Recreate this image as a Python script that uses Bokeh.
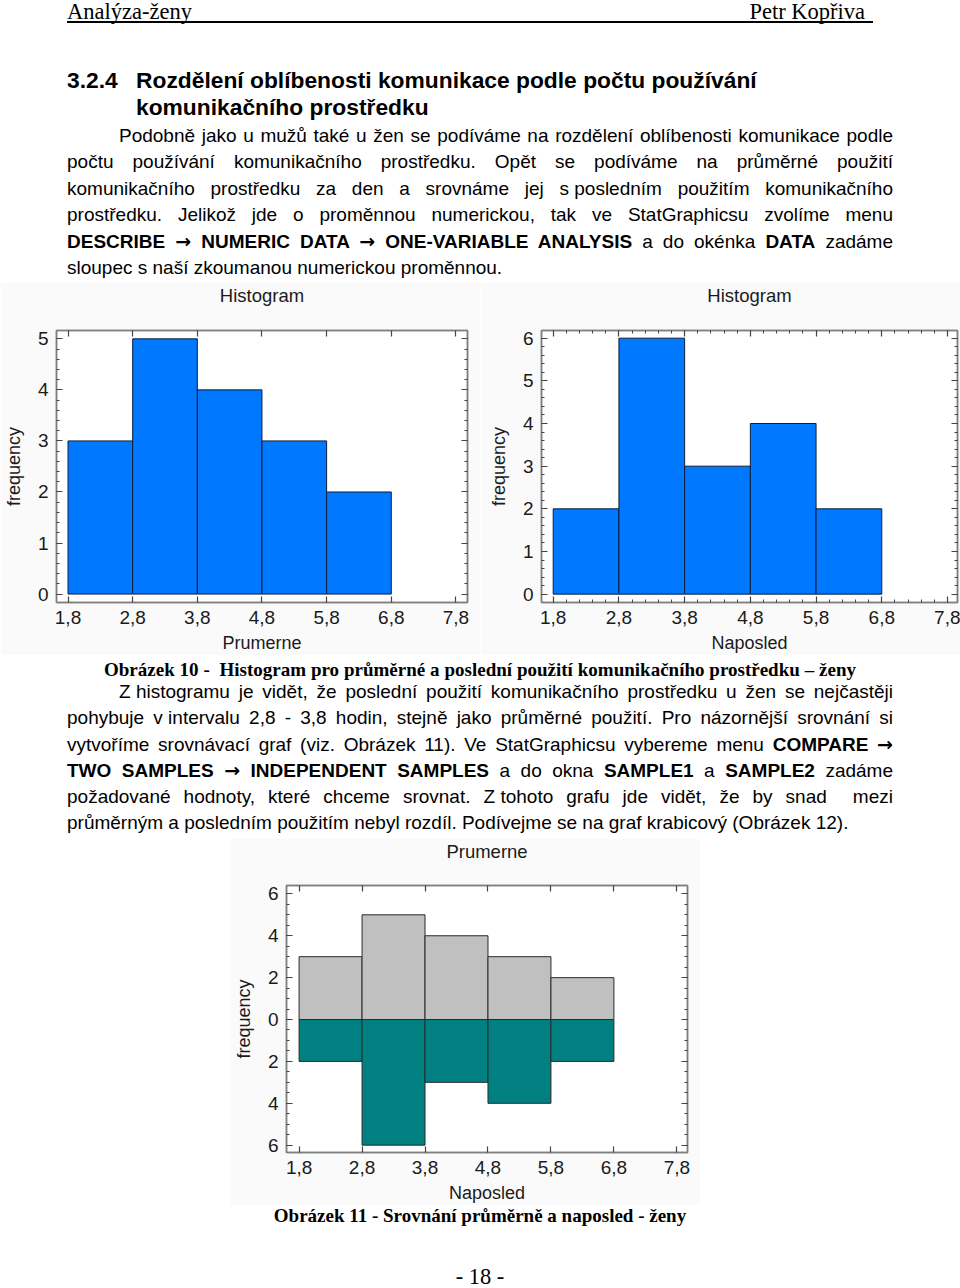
import numpy as np
from bokeh.plotting import figure
from bokeh.models import Range1d, FixedTicker, LinearAxis, Div, Spacer, ColumnDataSource
from bokeh.layouts import column, row
from bokeh.embed import file_html
from bokeh.resources import INLINE

# ---------------- data ----------------
bin_left = [1.8, 2.8, 3.8, 4.8, 5.8]
bin_right = [2.8, 3.8, 4.8, 5.8, 6.8]
prumerne_freq = [3, 5, 4, 3, 2]
naposled_freq = [2, 6, 3, 4, 2]
x_ticks = [1.8, 2.8, 3.8, 4.8, 5.8, 6.8, 7.8]
x_tick_labels = ["1,8", "2,8", "3,8", "4,8", "5,8", "6,8", "7,8"]
cmp_y_ticks = [-6, -4, -2, 0, 2, 4, 6]
cmp_y_labels = ["6", "4", "2", "0", "2", "4", "6"]

SANS = "Liberation Sans"
SERIF = "Liberation Serif"
AXIS_GRAY = "#808080"
TXT = "#1a1a1a"


def style_axis(ax, ticker, labels=None, show=True):
    ax.ticker = ticker
    ax.axis_line_color = AXIS_GRAY
    ax.axis_line_width = 1.5
    ax.major_tick_in = 6
    ax.major_tick_out = 0
    ax.minor_tick_in = 3
    ax.minor_tick_out = 0
    ax.major_tick_line_color = "#444444"
    ax.minor_tick_line_color = "#444444"
    ax.major_tick_line_width = 1.2
    ax.minor_tick_line_width = 1
    if labels is not None:
        ax.major_label_overrides = labels
    if show:
        ax.major_label_text_font = SANS
        ax.major_label_text_font_size = "19px"
        ax.major_label_text_color = TXT
        ax.major_label_standoff = 6
        ax.axis_label_text_font = SANS
        ax.axis_label_text_font_size = "18px"
        ax.axis_label_text_font_style = "normal"
        ax.axis_label_text_color = TXT
    else:
        ax.major_label_text_font_size = "1px"
        ax.major_label_text_color = None
        ax.major_label_standoff = 0


def make_fig(width, height, xr, yr, borders, title, xlabel, y_major, y_minor, x_minor,
             y_labels=None, top_pad=25):
    l, r, t, b = borders
    p = figure(width=width, height=height, x_range=Range1d(*xr), y_range=Range1d(*yr),
               output_backend="svg", toolbar_location=None,
               min_border_left=l, min_border_right=r, min_border_top=t, min_border_bottom=b,
               border_fill_color="#fafafa", background_fill_color="white",
               outline_line_color=AXIS_GRAY, outline_line_width=1.5)
    p.title.text = title
    p.title.align = "center"
    p.title.text_font = SANS
    p.title.text_font_size = "18.5px"
    p.title.text_font_style = "normal"
    p.title.text_color = TXT
    p.title.standoff = 0
    p.xgrid.visible = False
    p.ygrid.visible = False
    xt = FixedTicker(ticks=x_ticks, minor_ticks=x_minor)
    yt = FixedTicker(ticks=y_major, minor_ticks=y_minor)
    xl = dict(zip(x_ticks, x_tick_labels))
    style_axis(p.xaxis[0], xt, xl)
    p.xaxis[0].axis_label = xlabel
    p.xaxis[0].major_label_standoff = 8
    p.xaxis[0].axis_label_standoff = 6
    style_axis(p.yaxis[0], yt, y_labels)
    p.yaxis[0].axis_label = "frequency"
    p.yaxis[0].axis_label_standoff = 11
    p.yaxis[0].major_label_standoff = 8
    # mirrored inward ticks on the right and top edges of the frame
    ra = LinearAxis()
    style_axis(ra, FixedTicker(ticks=y_major, minor_ticks=y_minor), show=False)
    p.add_layout(ra, "right")
    ta = LinearAxis()
    style_axis(ta, FixedTicker(ticks=x_ticks, minor_ticks=x_minor), show=False)
    p.add_layout(ta, "above")
    # invisible spacer axis: reserves room between the frame and the title
    sp = LinearAxis()
    style_axis(sp, FixedTicker(ticks=x_ticks), show=False)
    sp.axis_line_color = None
    sp.major_tick_line_color = None
    sp.minor_tick_line_color = None
    sp.major_tick_in = 0
    sp.major_tick_out = top_pad
    p.add_layout(sp, "above")
    return p


y5_minor = list(np.round(np.arange(0, 5.01, 0.2), 2))
y6_minor = list(np.round(np.arange(0, 6.01, 0.2), 2))
x_minor02 = list(np.round(np.arange(1.8, 7.81, 0.2), 2))

# Figure 1 (left histogram, Prumerne)
p1 = make_fig(480, 373, (1.622, 7.979), (-0.165, 5.163), (52, 13, 48, 53),
              "Histogram", "Prumerne", [0, 1, 2, 3, 4, 5], y5_minor, [], top_pad=25)
src1 = ColumnDataSource(dict(left=bin_left, right=bin_right, top=prumerne_freq,
                             bottom=[0] * len(prumerne_freq)))
p1.quad(left="left", right="right", top="top", bottom="bottom", source=src1,
        fill_color="#0078ff", line_color="#0d1f3c", line_width=1)

# Figure 2 (right histogram, Naposled)
p2 = make_fig(480, 373, (1.622, 7.952), (-0.196, 6.18), (61, 3, 48, 52),
              "Histogram", "Naposled", [0, 1, 2, 3, 4, 5, 6], y6_minor, x_minor02, top_pad=25)
src2 = ColumnDataSource(dict(left=bin_left, right=bin_right, top=naposled_freq,
                             bottom=[0] * len(naposled_freq)))
p2.quad(left="left", right="right", top="top", bottom="bottom", source=src2,
        fill_color="#0078ff", line_color="#0d1f3c", line_width=1)

# Figure 3 (comparison)
cmp_minor = list(np.round(np.arange(-6, 6.01, 0.5), 2))
p3 = make_fig(470, 367, (1.6, 7.969), (-6.35, 6.40), (53, 13, 47, 53),
              "Prumerne", "Naposled", cmp_y_ticks, cmp_minor, [],
              y_labels=dict(zip(cmp_y_ticks, cmp_y_labels)), top_pad=24)
src3a = ColumnDataSource(dict(left=bin_left, right=bin_right, top=prumerne_freq,
                              bottom=[0] * len(prumerne_freq)))
src3b = ColumnDataSource(dict(left=bin_left, right=bin_right, top=[0] * len(naposled_freq),
                              bottom=[-v for v in naposled_freq]))
p3.quad(left="left", right="right", top="top", bottom="bottom", source=src3a,
        fill_color="#c0c0c0", line_color="#2a2a2a", line_width=1)
p3.quad(left="left", right="right", top="top", bottom="bottom", source=src3b,
        fill_color="#008080", line_color="#2a2a2a", line_width=1)


# ---------------- text blocks ----------------
def tline(text, center, left, width=None, size=19, family=SANS, weight="normal",
          align="left", lh=24, right=None):
    top = center - lh / 2
    st = (f"position:absolute;top:{top}px;line-height:{lh}px;font-family:'{family}';"
          f"font-size:{size}px;font-weight:{weight};color:#000;white-space:nowrap;")
    if right is not None:
        st += f"right:{right}px;"
    else:
        st += f"left:{left}px;"
    if width is not None:
        st += f"width:{width}px;"
    if align == "justify":
        st += "text-align:justify;text-align-last:justify;"
    elif align == "center":
        st += "text-align:center;"
    return f'<div style="{st}">{text}</div>'


def nb(s):
    return f'<span style="display:inline-block">{s}</span>'


def block(lines, h):
    return (f'<div style="position:relative;width:960px;height:{h}px;background:#fff;">'
            + "".join(lines) + "</div>")


ARW = '<span style="font-family:\'DejaVu Sans\';font-weight:bold;">&#8594;</span>'
L, W = 67, 826

hdr = [
    tline("Analýza-ženy", 12, 67, size=22.5, family=SERIF),
    tline("Petr Kopřiva", 12, None, size=22.5, family=SERIF, right=95),
    '<div style="position:absolute;top:21px;left:67px;width:806px;height:2px;background:#000;"></div>',
    tline("3.2.4", 80, 67, size=22.8, weight="bold"),
    tline("Rozdělení oblíbenosti komunikace podle počtu používání", 80, 136, size=22.8, weight="bold"),
    tline("komunikačního prostředku", 107, 136, size=22.8, weight="bold"),
    tline("Podobně jako u mužů také u žen se podíváme na rozdělení oblíbenosti komunikace podle",
          136, 119, width=774, align="justify"),
    tline("počtu používání komunikačního prostředku. Opět se podíváme na průměrné použití",
          162, L, width=W, align="justify"),
    tline("komunikačního prostředku za den a srovnáme jej " + nb("s&nbsp;posledním") + " použitím komunikačního",
          189, L, width=W, align="justify"),
    tline("prostředku. Jelikož jde o proměnnou numerickou, tak ve StatGraphicsu zvolíme menu",
          215, L, width=W, align="justify"),
    tline(f"<b>DESCRIBE {ARW} NUMERIC DATA {ARW} ONE-VARIABLE ANALYSIS</b> a do okénka <b>DATA</b> zadáme",
          241, L, width=W, align="justify"),
    tline("sloupec s naší zkoumanou numerickou proměnnou.", 268, L),
]
div1 = Div(text=block(hdr, 282), width=960, height=282, margin=(0, 0, 0, 0))

mid = [
    tline("Obrázek 10 -&nbsp; Histogram pro průměrné a poslední použití komunikačního prostředku – ženy",
          15, 104, width=752, size=19, family=SERIF, weight="bold", align="justify"),
    tline(nb("Z&nbsp;histogramu") + " je vidět, že poslední použití komunikačního prostředku u žen se nejčastěji",
          37, 119, width=774, align="justify"),
    tline("pohybuje " + nb("v&nbsp;intervalu") + " 2,8 - 3,8 hodin, stejně jako průměrné použití. Pro názornější srovnání si",
          63, L, width=W, align="justify"),
    tline(f"vytvoříme srovnávací graf (viz. Obrázek 11). Ve StatGraphicsu vybereme menu <b>COMPARE {ARW}</b>",
          89, L, width=W, align="justify"),
    tline(f"<b>TWO SAMPLES {ARW} INDEPENDENT SAMPLES</b> a do okna <b>SAMPLE1</b> a <b>SAMPLE2</b> zadáme",
          115, L, width=W, align="justify"),
    tline("požadované hodnoty, které chceme srovnat. " + nb("Z&nbsp;tohoto") + " grafu jde vidět, že by snad&nbsp; mezi",
          142, L, width=W, align="justify"),
    tline("průměrným a posledním použitím nebyl rozdíl. Podívejme se na graf krabicový (Obrázek 12).",
          168, L),
]
div2 = Div(text=block(mid, 183), width=960, height=183, margin=(0, 0, 0, 0))

bot = [
    tline("Obrázek 11 - Srovnání průměrně a naposled - ženy", 11, 0, width=960, size=19,
          family=SERIF, weight="bold", align="center"),
    tline("- 18 -", 72, 0, width=960, size=22.5, family=SERIF, align="center", lh=20),
]
div3 = Div(text=block(bot, 83), width=960, height=83, margin=(0, 0, 0, 0))

for f in (p1, p2, p3):
    f.margin = (0, 0, 0, 0)

r1 = row(p1, p2, spacing=0, margin=(0, 0, 0, 0))
r3 = row(Spacer(width=230, height=367, margin=(0, 0, 0, 0)), p3,
         Spacer(width=260, height=367, margin=(0, 0, 0, 0)), spacing=0, margin=(0, 0, 0, 0))
page = column(div1, r1, div2, r3, div3, spacing=0, margin=(0, 0, 0, 0))

open("out.html", "w").write(file_html(page, INLINE))
